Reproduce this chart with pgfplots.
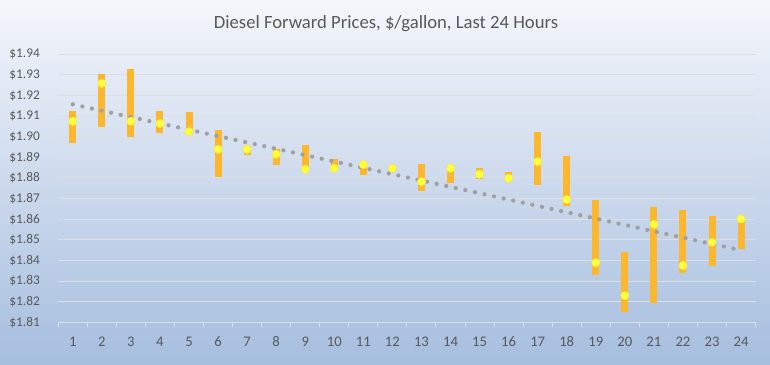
\documentclass[border=0pt]{standalone}
\usepackage{pgfplots}
\pgfplotsset{compat=1.18}
\usepackage{fontspec}
\setmainfont{Carlito}
\definecolor{bgtop}{HTML}{F4F6FB}
\definecolor{bgbot}{HTML}{A6BEDF}
\definecolor{gridcol}{HTML}{DCDEE2}
\definecolor{textgray}{HTML}{595959}
\definecolor{barcol}{HTML}{FDB72C}
\definecolor{dotyellow}{HTML}{FFFF3A}
\definecolor{dotedge}{HTML}{FFE640}
\definecolor{trendgray}{HTML}{A0A0A0}
\begin{document}
\begin{tikzpicture}
\fill[top color=bgtop, bottom color=bgbot] (0,0) rectangle (577.5pt,273pt);
\node[text=textgray, font=\fontsize{14}{16}\selectfont] at (289.5pt,255.5pt) {Diesel Forward Prices, \$/gallon, Last 24 Hours};
\begin{axis}[
  at={(43.7pt,31.3pt)}, anchor=south west,
  scale only axis, width=523pt, height=201pt,
  xmin=0.5, xmax=24.5, ymin=1.81, ymax=1.94,
  axis lines*=left,
  y axis line style={draw=none},
  x axis line style={gridcol, line width=0.75pt},
  xtick={1,...,24},
  xticklabels={1,2,3,4,5,6,7,8,9,10,11,12,13,14,15,16,17,18,19,20,21,22,23,24},
  minor xtick={0.5,1.5,...,24.5},
  major x tick style={draw=none},
  minor x tick style={gridcol, line width=0.75pt},
  minor tick length=3.2pt,
  tick align=outside,
  ytick={1.81,1.82,1.83,1.84,1.85,1.86,1.87,1.88,1.89,1.90,1.91,1.92,1.93,1.94},
  yticklabels={\$1.81,\$1.82,\$1.83,\$1.84,\$1.85,\$1.86,\$1.87,\$1.88,\$1.89,\$1.90,\$1.91,\$1.92,\$1.93,\$1.94},
  major y tick style={draw=none},
  ymajorgrids, grid style={gridcol, line width=0.75pt},
  xticklabel style={text=textgray, font=\fontsize{11}{13}\selectfont, yshift=-3pt},
  yticklabel style={text=textgray, font=\fontsize{10}{12}\selectfont, xshift=-6pt},
  unbounded coords=jump,
]
\addplot[barcol, line width=5.25pt, line cap=butt] coordinates {
(1,1.8972) (1,1.9125) (1,nan)
(2,1.9049) (2,1.9303) (2,nan)
(3,1.9001) (3,1.9327) (3,nan)
(4,1.9017) (4,1.9125) (4,nan)
(5,1.9020) (5,1.9119) (5,nan)
(6,1.8807) (6,1.9033) (6,nan)
(7,1.8912) (7,1.8955) (7,nan)
(8,1.8862) (8,1.8939) (8,nan)
(9,1.8842) (9,1.8959) (9,nan)
(10,1.8842) (10,1.8891) (10,nan)
(11,1.8813) (11,1.8878) (11,nan)
(12,1.8840) (12,1.8855) (12,nan)
(13,1.8739) (13,1.8866) (13,nan)
(14,1.8774) (14,1.8847) (14,nan)
(15,1.8794) (15,1.8849) (15,nan)
(16,1.8795) (16,1.8828) (16,nan)
(17,1.8765) (17,1.9022) (17,nan)
(18,1.8664) (18,1.8905) (18,nan)
(19,1.8331) (19,1.8692) (19,nan)
(20,1.8152) (20,1.8441) (20,nan)
(21,1.8192) (21,1.8658) (21,nan)
(22,1.8338) (22,1.8647) (22,nan)
(23,1.8375) (23,1.8614) (23,nan)
(24,1.8454) (24,1.8601)
};
\addplot[only marks, mark=*, mark size=3.1pt, mark options={fill=dotyellow, draw=dotedge, line width=0.4pt}] coordinates {
(1,1.9075) (2,1.9259) (3,1.9075) (4,1.9064) (5,1.9025) (6,1.8939)
(7,1.8939) (8,1.8915) (9,1.8842) (10,1.8847) (11,1.8865) (12,1.8847)
(13,1.8782) (14,1.8847) (15,1.8818) (16,1.8799) (17,1.8879) (18,1.8695)
(19,1.8389) (20,1.8229) (21,1.8575) (22,1.8375) (23,1.8488) (24,1.8601)
};
\addplot[trendgray, line width=3.2pt, line cap=round, dash pattern=on 0pt off 7.35pt] coordinates {(1,1.9157) (24,1.8449)};
\end{axis}
\end{tikzpicture}
\end{document}
